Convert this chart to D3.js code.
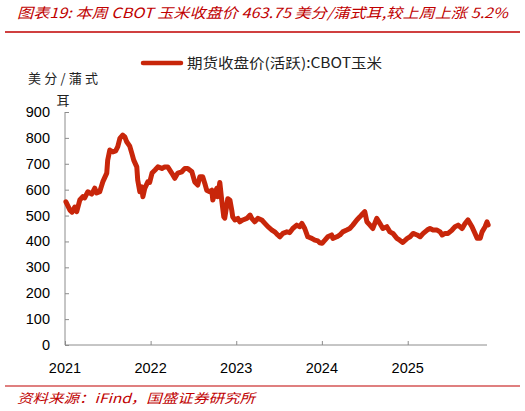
<!DOCTYPE html>
<meta charset="utf-8">
<style>
body{margin:0;background:white}
text{font-family:"Liberation Sans",Arial,sans-serif}
.cjk{font-family:"Noto Sans CJK SC",sans-serif}
.axis path,.axis line{stroke:#8c8c8c}
</style>
<svg width="525" height="411"></svg>
<script src="https://d3js.org/d3.v7.min.js"></script>
<script>

// dates
var dates = [
  "2021-01-05","2021-01-22","2021-01-31","2021-02-12","2021-02-20","2021-03-05","2021-03-18","2021-03-26",
  "2021-04-08","2021-04-25","2021-05-08","2021-05-16","2021-05-29","2021-06-11","2021-06-28","2021-07-02",
  "2021-07-11","2021-07-24","2021-08-05","2021-08-14","2021-08-23","2021-09-04","2021-09-13","2021-09-21",
  "2021-10-04","2021-10-13","2021-10-21","2021-11-03","2021-11-07","2021-11-16","2021-11-24","2021-11-29",
  "2021-12-07","2021-12-20","2021-12-28",
  "2022-01-07","2022-01-20","2022-02-01","2022-02-18","2022-03-02","2022-03-15","2022-04-01","2022-04-14",
  "2022-04-27","2022-05-14","2022-05-27","2022-06-08","2022-06-26","2022-07-08","2022-07-21","2022-07-30",
  "2022-08-11","2022-08-20","2022-08-28","2022-09-10","2022-09-19","2022-09-23","2022-10-02","2022-10-10",
  "2022-10-14","2022-10-23","2022-10-31","2022-11-09","2022-11-13","2022-11-26","2022-12-05","2022-12-13",
  "2022-12-17","2022-12-26",
  "2023-01-08","2023-01-16","2023-01-29","2023-02-15","2023-03-01","2023-03-08","2023-03-21","2023-04-03",
  "2023-04-20","2023-05-03","2023-05-16","2023-06-02","2023-06-14","2023-06-27","2023-07-06","2023-07-19",
  "2023-08-05","2023-08-17","2023-08-30","2023-09-16","2023-09-29","2023-10-08","2023-10-20","2023-11-02",
  "2023-11-19","2023-12-02","2023-12-15","2023-12-23",
  "2024-01-02","2024-01-14","2024-01-26","2024-02-12","2024-02-17","2024-03-05","2024-03-18","2024-03-30",
  "2024-04-16","2024-04-29","2024-05-12","2024-05-29","2024-06-11","2024-06-24","2024-07-02","2024-07-11",
  "2024-07-24","2024-08-05","2024-08-22","2024-09-04","2024-09-17","2024-10-04","2024-10-17","2024-10-30",
  "2024-11-16","2024-11-28","2024-12-11","2024-12-30",
  "2025-01-11","2025-01-24","2025-02-10","2025-02-23","2025-03-08","2025-03-25","2025-04-06","2025-04-19",
  "2025-05-06","2025-05-19","2025-05-28","2025-06-09","2025-06-22","2025-07-09","2025-07-22","2025-08-04",
  "2025-08-21","2025-09-03","2025-09-15","2025-10-02","2025-10-15","2025-10-24","2025-11-06","2025-11-14",
  "2025-11-27","2025-12-05","2025-12-10"
];
// CBOT corn, cents/bushel
var prices = [
  553,521,513,533,515,560,573,568,
  592,583,606,587,592,630,664,714,
  753,746,750,766,798,811,804,785,
  768,740,714,688,637,592,611,573,
  605,630,628,
  664,676,688,682,688,688,664,644,
  664,669,682,682,669,630,618,650,
  650,624,598,592,598,560,587,605,
  573,628,560,495,490,565,560,520,
  495,483,
  489,476,483,489,502,489,476,489,
  483,470,457,444,437,425,418,431,
  437,434,450,463,457,470,450,418,
  412,405,402,395,
  393,405,418,425,412,418,425,437,
  444,450,463,483,495,508,515,476,
  463,450,489,470,450,457,437,431,
  412,405,396,412,
  418,431,425,418,431,444,450,444,
  444,437,425,431,431,444,457,463,
  450,470,483,457,431,412,412,437,
  457,476,464
];
var yearTicks = ["2021","2022","2023","2024","2025"];
var yTicks = [0,100,200,300,400,500,600,700,800,900];

var svg = d3.select("svg");
var parse = d3.timeParse("%Y-%m-%d");
var data = dates.map(function(d, i) { return {date: parse(d), value: prices[i]}; });

var x = d3.scaleTime()
    .domain([parse("2021-01-01"), parse("2025-12-05")])
    .range([65, 487]);
var y = d3.scaleLinear().domain([0, 900]).range([345, 112]);

var red = "#c00000";

// title
svg.append("text")
    .attr("class", "cjk")
    .attr("x", 17).attr("y", 18)
    .attr("textLength", 491).attr("lengthAdjust", "spacingAndGlyphs")
    .style("font-size", "14px").style("font-style", "italic")
    .style("fill", red)
    .text("图表19:  本周 CBOT 玉米收盘价 463.75 美分/蒲式耳,较上周上涨 5.2%");
svg.append("line")
    .attr("x1", 5).attr("x2", 520).attr("y1", 32).attr("y2", 32)
    .attr("stroke", red).attr("stroke-width", 1.5);

// source
svg.append("line")
    .attr("x1", 5).attr("x2", 520).attr("y1", 386).attr("y2", 386)
    .attr("stroke", red).attr("stroke-width", 1.2);
svg.append("text")
    .attr("class", "cjk")
    .attr("x", 17).attr("y", 403)
    .attr("textLength", 238).attr("lengthAdjust", "spacingAndGlyphs")
    .style("font-size", "13px").style("font-style", "italic")
    .style("fill", red)
    .text("资料来源：iFind，国盛证券研究所");

// axes
var yAxis = svg.append("g")
    .attr("class", "axis")
    .attr("transform", "translate(65,0)")
    .call(d3.axisRight(y).tickValues(yTicks).tickSize(4).tickFormat(""));
yAxis.select(".domain").attr("d", "M0," + y(900) + "V" + y(0));

svg.append("g").selectAll("text")
    .data(yTicks)
    .enter().append("text")
      .attr("x", 50)
      .attr("y", function(d) { return y(d) + 5; })
      .attr("text-anchor", "end")
      .style("font-size", "14.5px")
      .text(function(d) { return d; });

var xAxis = svg.append("g")
    .attr("class", "axis")
    .attr("transform", "translate(0,345)")
    .call(d3.axisTop(x)
      .tickValues(yearTicks.map(function(d) { return parse(d + "-01-01"); }))
      .tickSize(4).tickFormat(""));
xAxis.select(".domain").attr("d", "M65,0H487");

svg.append("g").selectAll("text")
    .data(yearTicks)
    .enter().append("text")
      .attr("x", function(d) { return x(parse(d + "-01-01")); })
      .attr("y", 373)
      .attr("text-anchor", "middle")
      .style("font-size", "14.5px")
      .text(function(d) { return d; });

// unit label
svg.append("text").attr("class", "cjk")
    .attr("x", 28).attr("y", 83)
    .attr("textLength", 70).attr("lengthAdjust", "spacing")
    .style("font-size", "13px").style("fill", "#222")
    .text("美分/蒲式");
svg.append("text").attr("class", "cjk")
    .attr("x", 63).attr("y", 105).attr("text-anchor", "middle")
    .style("font-size", "13px").style("fill", "#222")
    .text("耳");

// series
var line = d3.line()
    .x(function(d) { return x(d.date); })
    .y(function(d) { return y(d.value); });

svg.append("path")
    .datum(data)
    .attr("d", line)
    .attr("fill", "none")
    .attr("stroke", "#c8260a")
    .attr("stroke-width", 5)
    .attr("stroke-linejoin", "round")
    .attr("stroke-linecap", "round");

// legend
svg.append("line")
    .attr("x1", 143).attr("x2", 181).attr("y1", 63).attr("y2", 63)
    .attr("stroke", "#c8260a").attr("stroke-width", 4.5)
    .attr("stroke-linecap", "round");
svg.append("text").attr("class", "cjk")
    .attr("x", 187).attr("y", 68)
    .attr("textLength", 195).attr("lengthAdjust", "spacingAndGlyphs")
    .style("font-size", "14px").style("fill", "#222")
    .text("期货收盘价(活跃):CBOT玉米");

</script>
